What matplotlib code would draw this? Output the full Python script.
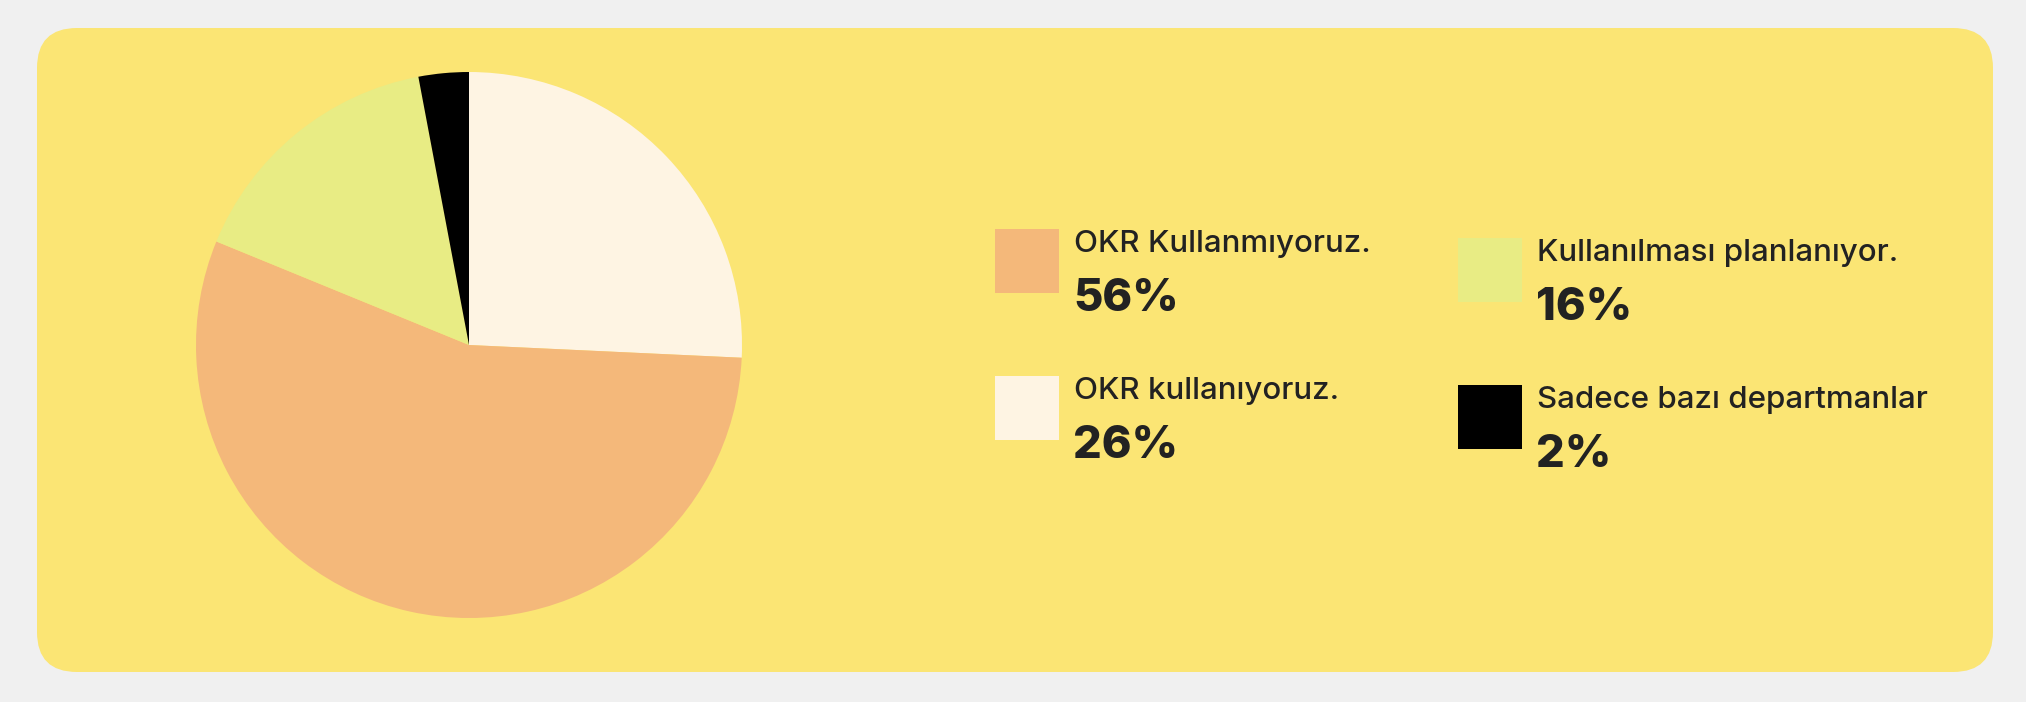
import matplotlib
matplotlib.use('Agg')
import matplotlib.pyplot as plt
from matplotlib.patches import FancyBboxPatch, Rectangle

BG = '#F0F0F0'; CARD = '#FBE574'; INK = '#222222'

# data (pie order: clockwise from 12 o'clock)
pie_values = [26, 56, 16, 3]
pie_colors = ['#FEF4E3', '#F4B87A', '#E8EC84', '#000000']

# legend entries, read column by column
leg_labels = ['OKR Kullanmıyoruz.', 'OKR kullanıyoruz.', 'Kullanılması planlanıyor.', 'Sadece bazı departmanlar']
leg_pcts = ['56%', '26%', '16%', '2%']
leg_colors = ['#F4B87A', '#FEF4E3', '#E8EC84', '#000000']

W, H = 2026, 702
fig = plt.figure(figsize=(W / 100, H / 100), dpi=100)
fig.patch.set_facecolor(BG)

# background axes in pixel coords
bg = fig.add_axes([0, 0, 1, 1])
bg.set_xlim(0, W); bg.set_ylim(H, 0); bg.axis('off')
bg.add_patch(FancyBboxPatch((37 + 40, 28 + 40), 1956 - 80, 644 - 80,
                            boxstyle='round,pad=40', fc=CARD, ec='none'))

# pie
cx, cy, r = 469, 345, 273
pax = fig.add_axes([(cx - r) / W, (H - cy - r) / H, 2 * r / W, 2 * r / H])
pax.pie(pie_values, colors=pie_colors, startangle=90, counterclock=False,
        wedgeprops=dict(linewidth=0))
pax.set_xlim(-1, 1); pax.set_ylim(-1, 1)
pax.set_aspect('equal'); pax.axis('off')

# legend
col_x = [995, 1458]
row_top = [[229, 376], [238, 385]]
for i, (lab, pct, c) in enumerate(zip(leg_labels, leg_pcts, leg_colors)):
    col, row = divmod(i, 2)
    x0 = col_x[col]; y0 = row_top[col][row]
    bg.add_patch(Rectangle((x0, y0), 64, 64, fc=c, ec='none'))
    bg.text(x0 + 79, y0 + 23, lab, fontsize=22.5, color=INK, va='baseline', ha='left',
            family='Inter', fontweight='medium')
    bg.text(x0 + 78, y0 + 82, pct, fontsize=32.5, color=INK, va='baseline', ha='left',
            family='Inter', fontweight='heavy')

fig.savefig('out.png', dpi=100, facecolor=BG)
